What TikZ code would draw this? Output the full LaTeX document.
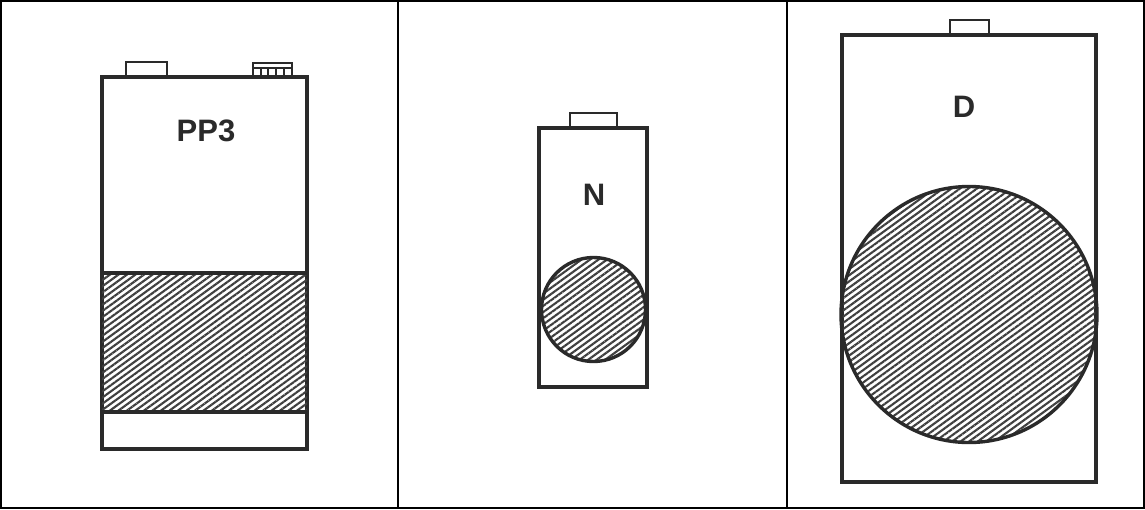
\documentclass[tikz,border=0pt]{standalone}
\usepackage{fontspec}
\setmainfont{Liberation Sans}
\usetikzlibrary{patterns.meta}
\definecolor{ink}{HTML}{2A2A2A}
\tikzset{
  cell/.style={draw=black, line width=2pt},
  body/.style={draw=ink, line width=3.6pt, fill=white},
  term/.style={draw=ink, line width=2.8pt, fill=white},
  hatch/.style={pattern={Lines[angle=36, distance=5pt, line width=2.1pt]}, pattern color=ink!90},
  hatchline/.style={draw=ink, line width=3.4pt},
  lbl/.style={font=\bfseries\fontsize{31}{31}\selectfont, text=ink, inner sep=0pt}
}
\begin{document}
\begin{tikzpicture}[x=1pt, y=-1pt]
\useasboundingbox (0,0) rectangle (1145,509);
% table
\draw[cell] (1,1) rectangle (1144,508);
\draw[cell] (398,1) -- (398,508);
\draw[cell] (787,1) -- (787,508);

% PP3
\draw[term] (126,77) rectangle (167,62);
\draw[term] (253,77) rectangle (292,63);
\draw[term] (253,68) -- (292,68);
\foreach \x in {261,268,276,284} \draw[ink, line width=2pt] (\x,68) -- (\x,77);
\draw[body] (102,77) rectangle (307,449);
\fill[hatch] (102,273) rectangle (307,412);
\draw[hatchline] (102,273) -- (307,273);
\draw[hatchline] (102,412) -- (307,412);
\node[lbl] (pp3) at (206,131) {PP3};

% N
\draw[term] (570,128) rectangle (617,113);
\draw[body] (539,128) rectangle (647,387);
\path[hatch] (593.5,309.5) circle (52);
\draw[hatchline] (593.5,309.5) circle (52);
\node[lbl] (n) at (594,195) {N};

% D
\draw[term] (950,35) rectangle (989,20);
\draw[body] (842,35) rectangle (1096,482);
\path[hatch] (969,314.5) circle (128);
\draw[hatchline] (969,314.5) circle (128);
\node[lbl] (d) at (964,107) {D};
\end{tikzpicture}
\end{document}
